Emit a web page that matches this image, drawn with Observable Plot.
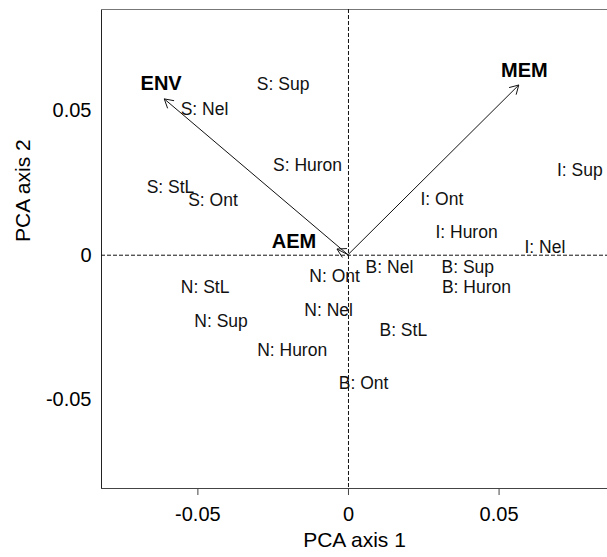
<!DOCTYPE html>
<html>
<head>
<meta charset="utf-8">
<script src="https://cdn.jsdelivr.net/npm/d3@7"></script>
<script src="https://cdn.jsdelivr.net/npm/@observablehq/plot@0.6"></script>
<style>
  html, body { margin: 0; padding: 0; background: #fff; }
  #chart svg { display: block; }
</style>
</head>
<body>
<div id="chart"></div>
<script>
// Site/group labels and their PCA scores
const siteLabels = ["S: Sup","S: Nel","S: Huron","S: StL","S: Ont",
  "I: Sup","I: Ont","I: Huron","I: Nel",
  "N: StL","N: Sup","N: Huron","N: Ont","N: Nel",
  "B: Nel","B: Sup","B: Huron","B: StL","B: Ont"];
const siteAxis1 = [-0.0217,-0.0478,-0.0136,-0.0591,-0.0450,
  0.0768,0.0310,0.0392,0.0652,
  -0.0476,-0.0423,-0.0187,-0.0046,-0.0066,
  0.0136,0.0396,0.0425,0.0182,0.0050];
const siteAxis2 = [0.0591,0.0506,0.0310,0.0236,0.0191,
  0.0293,0.0194,0.0080,0.0028,
  -0.0110,-0.0228,-0.0330,-0.0074,-0.0191,
  -0.0041,-0.0041,-0.0110,-0.0259,-0.0442];

// Explanatory-variable arrows (tips) and label positions
const arrowNames = ["ENV","MEM","AEM"];
const arrowAxis1 = [-0.0610, 0.0567, -0.00365];
const arrowAxis2 = [0.0539, 0.0587, 0.00197];
const arrowLabelAxis1 = [-0.0622, 0.0584, -0.0181];
const arrowLabelAxis2 = [0.0592, 0.0639, 0.0046];

// Axes
const xDomain = [-0.082, 0.086];
const yDomain = [-0.0807, 0.085];
const xTicks = [-0.05, 0, 0.05];
const xTickLabels = ["-0.05", "0", "0.05"];
const yTicks = [-0.05, 0, 0.05];
const yTickLabels = ["-0.05", "0", "0.05"];
const xTitle = "PCA axis 1";
const yTitle = "PCA axis 2";

const sites = siteLabels.map((label, i) => ({label, x: siteAxis1[i], y: siteAxis2[i]}));
const arrows = arrowNames.map((name, i) => ({name, x: arrowAxis1[i], y: arrowAxis2[i],
  lx: arrowLabelAxis1[i], ly: arrowLabelAxis2[i]}));

function arrowRender(index, scales, values) {
  const g = d3.create("svg:g")
    .attr("fill", "none").attr("stroke", "#111").attr("stroke-width", 1);
  const x0 = scales.x(0), y0 = scales.y(0);
  const L = 10, a = Math.PI / 6;
  for (const i of index) {
    const x1 = values.x[i], y1 = values.y[i];
    const ang = Math.atan2(y1 - y0, x1 - x0);
    const d = `M${x0},${y0}L${x1},${y1}` +
      `M${x1 - L * Math.cos(ang - a)},${y1 - L * Math.sin(ang - a)}L${x1},${y1}` +
      `L${x1 - L * Math.cos(ang + a)},${y1 - L * Math.sin(ang + a)}`;
    g.append("path").attr("d", d);
  }
  return g.node();
}

const chart = Plot.plot({
  width: 607,
  height: 557,
  marginLeft: 101,
  marginRight: 0,
  marginTop: 9,
  marginBottom: 69,
  style: {fontFamily: "'Liberation Sans', Arial, sans-serif", background: "#fff", color: "#000"},
  x: {domain: xDomain},
  y: {domain: yDomain},
  marks: [
    Plot.frame({anchor: "left", stroke: "#222"}),
    Plot.frame({anchor: "top", stroke: "#777"}),
    Plot.frame({anchor: "bottom", stroke: "#444"}),
    Plot.ruleX([0], {stroke: "#111", strokeDasharray: "4,2"}),
    Plot.ruleY([0], {stroke: "#111", strokeDasharray: "4,2"}),
    Plot.axisX({ticks: xTicks, tickFormat: d => xTickLabels[xTicks.indexOf(d)],
      tickSize: 7, tickPadding: 11, fontSize: 20, label: null, stroke: "#444"}),
    Plot.axisY({ticks: yTicks, tickFormat: d => yTickLabels[yTicks.indexOf(d)],
      tickSize: 0, tickPadding: 10, fontSize: 20, label: null}),
    Plot.text([xTitle], {frameAnchor: "bottom", dy: 58, fontSize: 21, text: d => d}),
    Plot.text([yTitle], {frameAnchor: "left", dx: -78, dy: -7, rotate: -90, fontSize: 21, text: d => d}),
    Plot.dot(arrows, {x: "x", y: "y", render: arrowRender}),
    Plot.text(sites, {x: "x", y: "y", text: "label", fontSize: 17.5, fill: "#111"}),
    Plot.text(arrows, {x: "lx", y: "ly", text: "name", fontSize: 20, fontWeight: "bold", fill: "#000"})
  ]
});
document.getElementById("chart").appendChild(chart);
</script>
</body>
</html>
